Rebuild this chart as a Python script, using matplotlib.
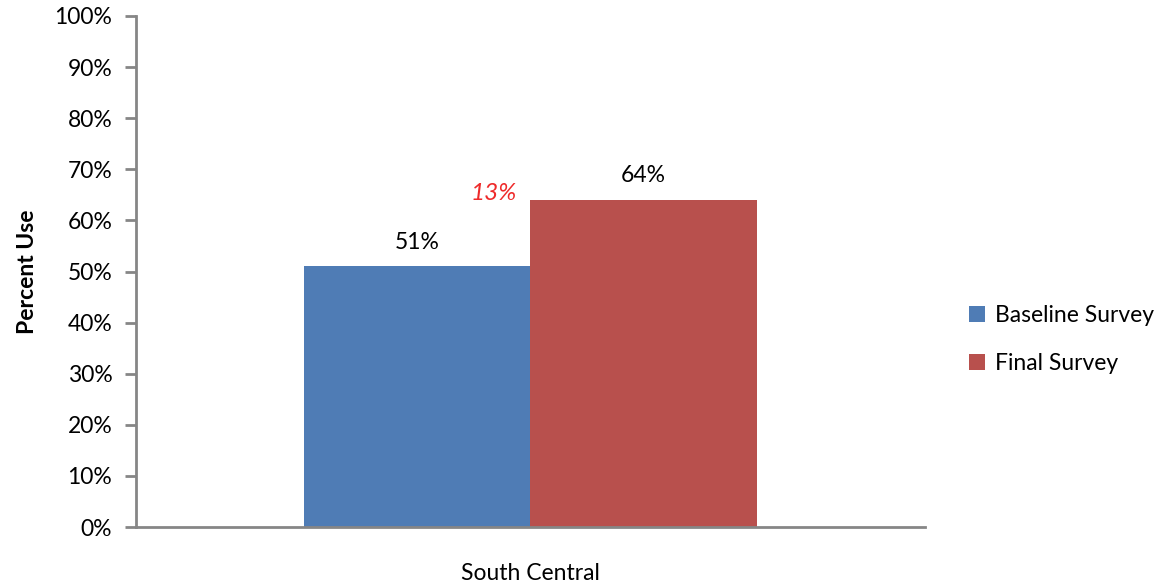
import matplotlib
matplotlib.use('Agg')
import matplotlib.pyplot as plt
import numpy as np

# chart data
category = ['South Central']
series_names = ['Baseline Survey', 'Final Survey']
series_values = [51, 64]
series_colors = ['#4f7cb5', '#b8504d']
change_label = '13%'
yticks = np.arange(0, 101, 10)

plt.rcParams['font.family'] = ['Lato', 'DejaVu Sans']
fs = 16.5

fig = plt.figure(figsize=(11.7, 5.88), dpi=100)
ax = fig.add_axes([0.1162, 0.1037, 0.6744, 0.8691])

w = 0.2865
offsets = [-w / 2, w / 2]
for name, val, col, off in zip(series_names, series_values, series_colors, offsets):
    ax.bar(off, val, width=w, color=col, label=name)
    ax.text(off, val + 4.7, f'{val}%', ha='center', va='center', fontsize=fs)

# difference label, just above the left edge of the final bar
ax.text(-0.047, series_values[1] + 1.2, change_label, ha='center', va='center',
        fontsize=fs + 1, style='italic', color='#ee2a2a')

ax.set_xlim(-0.5, 0.5)
ax.set_ylim(0, 100)
ax.set_yticks(yticks)
ax.set_yticklabels([f'{t}%' for t in yticks], fontsize=fs)
ax.set_xticks([])
ax.set_xlabel(category[0], fontsize=fs, labelpad=26)
ax.set_ylabel('Percent Use', fontsize=fs, fontweight='bold', labelpad=12)

for s in ['top', 'right']:
    ax.spines[s].set_visible(False)
for s in ['left', 'bottom']:
    ax.spines[s].set_color('#868686')
    ax.spines[s].set_linewidth(2)
ax.tick_params(axis='y', length=8, width=2, color='#868686', pad=9)

ax.legend(loc='center left', bbox_to_anchor=(1.03, 0.367), frameon=False,
          fontsize=fs, handlelength=0.7, handleheight=0.7, labelspacing=1.2,
          handletextpad=0.4)

fig.savefig('out.png', dpi=100)
